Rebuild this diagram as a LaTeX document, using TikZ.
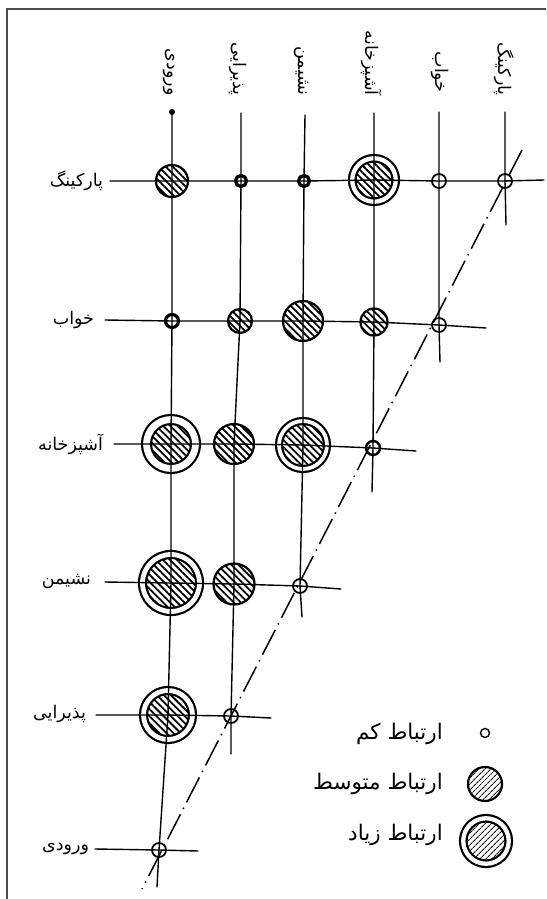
\documentclass[tikz,border=0pt]{standalone}
\usepackage{fontspec}
\setmainfont{DejaVu Sans}
\newfontfamily\farsi[Script=Arabic]{DejaVu Sans}
\TeXXeTstate=1
\usetikzlibrary{patterns.meta}

\tikzset{
  frame/.style={gray!60!black, line width=1.5pt},
  grid/.style={line width=1.4pt, line cap=round},
  diag/.style={line width=1.5pt, dash pattern=on 28pt off 6pt on 1.5pt off 6pt},
  rowlbl/.style={font=\farsi\fontsize{17.5}{20}\selectfont, anchor=east, inner sep=1pt, outer sep=0pt},
  colhead/.style={font=\farsi\fontsize{17.5}{20}\selectfont, rotate=-90, anchor=east, inner sep=0pt},
  legtxt/.style={font=\farsi\fontsize{21.5}{24}\selectfont, anchor=east, inner sep=0pt},
  kam/.style={circle, draw, line width=1.8pt, minimum size=14pt, inner sep=0pt},
  kamt/.style={kam, line width=3.2pt, minimum size=11pt},
  mot/.style={circle, draw, line width=2.2pt, inner sep=0pt,
    pattern={Lines[angle=-45, distance=5pt, line width=1.8pt]}},
  ziad/.style={mot, double, double distance=#1},
  ziad/.default=5pt,
  legmot/.style={mot, pattern={Lines[angle=45, distance=4pt, line width=1.1pt]}},
}

\begin{document}
\begin{tikzpicture}[x=1pt, y=1pt]
\useasboundingbox (0,0) rectangle (546,-899);
\draw[frame] (7,-899) -- (7,-9) -- (546,-9);

% column heads
\node[colhead] (h1) at (169,-96) {\beginR ورودی\endR};
\node[colhead] (h2) at (238,-96) {\beginR پذیرایی\endR};
\node[colhead] (h3) at (301,-96) {\beginR نشیمن\endR};
\node[colhead] (h4) at (372,-96) {\beginR آشپزخانه\endR};
\node[colhead] (h5) at (440,-93) {\beginR خواب\endR};
\node[colhead] (h6) at (504,-96) {\beginR پارکینگ\endR};

% row labels
\node[rowlbl] (lp) at (104,-181) {\beginR پارکینگ\endR};
\node[rowlbl] (lk) at (95,-320) {\beginR خواب\endR};
\node[rowlbl] (la) at (104,-444) {\beginR آشپزخانه\endR};
\node[rowlbl] (ln) at (92,-582) {\beginR نشیمن\endR};
\node[rowlbl] (lz) at (87,-714) {\beginR پذیرایی\endR};
\node[rowlbl] (lv) at (90,-849) {\beginR ورودی\endR};

% row: parking
\node[mot, minimum size=32pt] (p1) at (172,-181) {};
\node[kamt] (p2) at (241,-181) {};
\node[kamt] (p3) at (304,-181) {};
\node[ziad=4.3pt, minimum size=43.5pt] (p4) at (374,-180) {};
\node[kam] (p5) at (439,-181) {};
\node[kam] (p6) at (505,-181) {};
% row: khab
\node[kamt, minimum size=13pt] (k1) at (172,-321) {};
\node[mot, minimum size=24pt] (k2) at (240,-321) {};
\node[mot, minimum size=40pt] (k3) at (303,-321) {};
\node[mot, minimum size=27pt] (k4) at (374,-322) {};
\node[kam] (k5) at (439,-325) {};
% row: ashpazkhane
\node[ziad=6.8pt, minimum size=49pt] (a1) at (171,-444) {};
\node[mot, minimum size=40pt] (a2) at (234,-444) {};
\node[ziad=3.8pt, minimum size=48pt] (a3) at (303,-445) {};
\node[kam, line width=2.4pt] (a4) at (373,-448) {};
% row: neshiman
\node[ziad=4.8pt, minimum size=57pt] (n1) at (171,-583) {};
\node[mot, minimum size=41pt] (n2) at (234,-584) {};
\node[kam] (n3) at (300,-586) {};
% row: paziraii
\node[ziad=4.8pt, minimum size=49pt] (z1) at (168,-715) {};
\node[kam] (z2) at (231,-716) {};
% row: vorudi
\node[kam] (v1) at (159,-850) {};

% line ends
\node[circle, fill, inner sep=0pt, minimum size=6pt] (t1) at (172,-112) {};
\coordinate (t2) at (241,-113);
\coordinate (t3) at (305,-115);
\coordinate (t4) at (374,-113);
\coordinate (t5) at (439,-112);
\coordinate (t6) at (505,-112);
\coordinate (b1) at (157,-887);
\coordinate (b2) at (231,-754);
\coordinate (b3) at (302,-617);
\coordinate (b4) at (372,-492);
\coordinate (b5) at (440,-362);
\coordinate (b6) at (506,-225);
\coordinate (sp) at (110,-181);
\coordinate (sk) at (105,-320);
\coordinate (sa) at (114,-444);
\coordinate (sn) at (105,-582);
\coordinate (sz) at (96,-715);
\coordinate (sv) at (95,-849);
\coordinate (ep) at (544,-180);
\coordinate (ek) at (486,-328);
\coordinate (ea) at (416,-451);
\coordinate (en) at (341,-589);
\coordinate (ez) at (271,-718);
\coordinate (ev) at (198,-851);
\coordinate (dt) at (522,-150);
\coordinate (db) at (142,-889);

% columns
\draw[grid] (t1.center) -- (p1.center) -- (k1.center) -- (a1.center) -- (n1.center) -- (z1.center) -- (v1.center) -- (b1);
\draw[grid] (t2) -- (p2.center) -- (k2.center) -- (a2.center) -- (n2.center) -- (z2.center) -- (b2);
\draw[grid] (t3) -- (p3.center) -- (k3.center) -- (a3.center) -- (n3.center) -- (b3);
\draw[grid] (t4) -- (p4.center) -- (k4.center) -- (a4.center) -- (b4);
\draw[grid] (t5) -- (p5.center) -- (k5.center) -- (b5);
\draw[grid] (t6) -- (p6.center) -- (b6);
% rows
\draw[grid] (sp) -- (p1.center) -- (p2.center) -- (p3.center) -- (p4.center) -- (p5.center) -- (p6.center) -- (ep);
\draw[grid] (sk) -- (k1.center) -- (k2.center) -- (k3.center) -- (k4.center) -- (k5.center) -- (ek);
\draw[grid] (sa) -- (a1.center) -- (a2.center) -- (a3.center) -- (a4.center) -- (ea);
\draw[grid] (sn) -- (n1.center) -- (n2.center) -- (n3.center) -- (en);
\draw[grid] (sz) -- (z1.center) -- (z2.center) -- (ez);
\draw[grid] (sv) -- (v1.center) -- (ev);
% diagonal
\draw[diag] (dt) -- (db);

% legend
\node[kam, line width=1.4pt, minimum size=9pt] (g1) at (485,-733) {};
\node[legmot, minimum size=34pt] (g2) at (485,-784) {};
\node[legmot, double, double distance=4.3pt, minimum size=45.5pt] (g3) at (486,-841) {};
\node[legtxt] (g1t) at (443,-734) {\beginR ارتباط کم\endR};
\node[legtxt] (g2t) at (443,-784) {\beginR ارتباط متوسط\endR};
\node[legtxt] (g3t) at (443,-835) {\beginR ارتباط زیاد\endR};
\end{tikzpicture}
\end{document}
